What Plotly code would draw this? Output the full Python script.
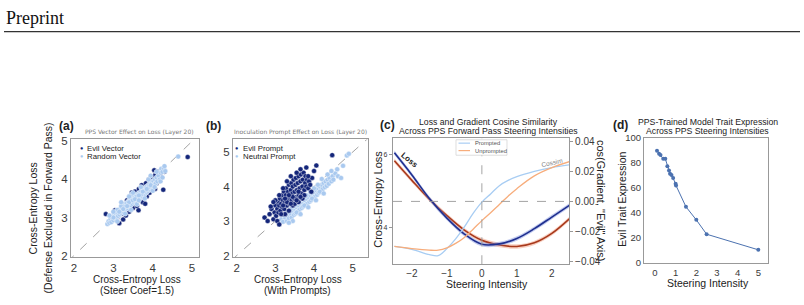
import plotly.graph_objects as go

W, H = 804, 305

# ---------------- data ----------------
# Panel (a): PPS Vector Effect on Loss (Layer 20)
a_evil_pts = [(2.81,3.09),(2.92,2.92),(3.0,2.95),(3.04,3.19),(3.1,3.0),(3.13,3.05),(3.15,2.85),(3.2,3.25),
    (3.22,3.1),(3.25,2.95),(3.28,3.35),(3.3,3.2),(3.32,3.05),(3.35,3.45),(3.38,3.3),(3.4,3.15),(3.42,3.56),
    (3.45,3.4),(3.47,3.66),(3.5,3.25),(3.52,3.5),(3.55,3.68),(3.57,3.35),(3.6,3.3),(3.62,3.6),(3.64,3.19),
    (3.65,3.75),(3.68,3.45),(3.7,3.55),(3.72,3.85),(3.75,3.4),(3.78,3.65),(3.8,3.7),(3.81,3.36),(3.83,3.9),
    (3.85,3.55),(3.88,3.8),(3.9,4.0),(3.92,3.65),(3.95,3.85),(3.98,3.98),(4.0,3.75),(4.02,4.05),(4.06,4.11),
    (4.06,3.75),(4.1,3.9),(4.12,4.2),(4.15,3.95),(4.17,4.08),(4.2,4.1),(4.27,3.73),(4.3,4.2),(4.89,4.59),
    (3.55,3.55),(3.65,3.62),(3.75,3.78),(3.85,3.8),(3.45,3.52),(3.35,3.2),(3.95,4.05),(4.04,4.24)]
a_random_pts = [(2.85,2.83),(2.88,2.9),(2.9,2.86),(2.93,2.95),(2.95,2.88),(2.97,3.0),(3.0,2.93),(3.02,3.05),
    (3.04,2.98),(3.06,3.1),(3.08,3.0),(3.1,3.12),(3.12,3.04),(3.14,3.18),(3.16,3.08),(3.18,3.22),(3.2,3.12),
    (3.22,3.26),(3.24,3.15),(3.26,3.3),(3.28,3.2),(3.3,3.35),(3.32,3.22),(3.34,3.38),(3.36,3.25),(3.38,3.42),
    (3.4,3.3),(3.42,3.45),(3.44,3.32),(3.46,3.48),(3.48,3.36),(3.5,3.52),(3.52,3.4),(3.54,3.55),(3.56,3.42),
    (3.58,3.58),(3.6,3.46),(3.62,3.62),(3.64,3.5),(3.66,3.64),(3.68,3.52),(3.7,3.68),(3.72,3.56),(3.74,3.72),
    (3.76,3.6),(3.78,3.75),(3.8,3.62),(3.82,3.78),(3.84,3.66),(3.86,3.82),(3.88,3.7),(3.9,3.86),(3.92,3.74),
    (3.94,3.9),(3.96,3.78),(3.98,3.92),(4.0,3.82),(4.02,3.96),(4.04,3.86),(4.06,4.0),(4.08,3.9),(4.1,4.05),
    (4.12,3.95),(4.15,4.1),(4.18,4.0),(4.2,4.18),(4.22,4.28),(4.25,4.2),(4.28,4.3),(4.32,4.22),(4.65,4.6),
    (3.1,3.2),(3.2,3.3),(3.3,3.28),(3.4,3.4),(3.5,3.45),(3.6,3.55),(3.7,3.6),(3.8,3.7),(3.9,3.8),(3.45,3.6),
    (3.55,3.48),(3.65,3.58),(3.35,3.3),(3.25,3.22),(3.15,3.15),(3.0,3.0),(3.75,3.68),(3.85,3.75),(3.95,3.85),
    (3.0,3.15),(3.1,2.9),(3.2,3.4),(3.3,3.1),(3.5,3.65),(3.6,3.35),(3.7,3.8),(3.8,3.5),(3.9,4.0),(4.0,3.7),
    (4.1,4.2),(4.2,3.95),(4.3,4.35),(4.25,4.05),(2.9,3.05),(3.4,3.55),(3.45,3.2),(3.65,3.45),(3.95,4.1),(4.05,3.8)]

# Panel (b): Inoculation Prompt Effect on Loss (Layer 20)
b_evil_pts = [(2.72,3.1),(2.85,3.2),(2.9,3.35),(2.95,3.05),(2.98,3.25),(3.0,3.45),(3.02,3.15),(3.05,3.35),
    (3.07,3.55),(3.08,3.25),(3.1,3.45),(3.12,3.65),(3.13,3.3),(3.15,3.5),(3.17,3.75),(3.18,3.4),(3.2,3.6),
    (3.22,3.85),(3.23,3.35),(3.25,3.55),(3.27,3.75),(3.28,3.95),(3.3,3.45),(3.32,3.65),(3.33,3.85),(3.35,4.05),
    (3.36,3.5),(3.38,3.7),(3.4,3.9),(3.41,4.1),(3.42,3.6),(3.44,3.8),(3.45,4.0),(3.47,4.2),(3.48,3.65),
    (3.5,3.85),(3.52,4.05),(3.53,4.25),(3.55,3.7),(3.56,3.9),(3.58,4.1),(3.6,4.3),(3.61,3.75),(3.63,3.95),
    (3.65,4.15),(3.66,4.35),(3.68,3.8),(3.7,4.0),(3.71,4.2),(3.73,4.4),(3.75,3.9),(3.77,4.1),(3.78,4.3),
    (3.8,4.0),(3.82,4.2),(3.85,3.95),(3.87,4.15),(3.9,4.05),(3.93,3.85),(3.95,4.25),(4.06,4.61),(4.0,4.45),
    (4.47,4.91),(3.65,4.5),(3.55,4.4),(3.25,3.2),(3.35,3.3),(3.45,3.45),(3.15,3.2),(3.05,3.0),(2.8,3.0),
    (2.88,3.42),(3.0,3.6),(3.1,3.75),(3.2,3.95),(3.3,4.15),(3.4,4.3),(3.5,3.5),(3.6,3.55),(3.7,3.65),
    (3.3,3.55),(3.4,3.5),(3.5,3.65),(3.2,3.45),(3.6,3.85),(3.75,3.75),(3.45,3.7),(3.55,3.6),(3.35,3.75),
    (3.25,3.65),(3.65,3.7),(3.85,4.3),(3.8,4.55),(3.1,2.9),(2.95,3.55)]
b_neutral_pts = [(3.1,2.95),(3.15,3.05),(3.2,2.98),(3.25,3.1),(3.3,3.0),(3.32,3.15),(3.35,3.08),(3.4,3.2),
    (3.42,3.1),(3.45,3.28),(3.48,3.18),(3.5,3.35),(3.52,3.22),(3.55,3.4),(3.58,3.28),(3.6,3.45),(3.62,3.32),
    (3.65,3.5),(3.68,3.38),(3.7,3.55),(3.72,3.42),(3.75,3.6),(3.78,3.46),(3.8,3.65),(3.82,3.5),(3.85,3.7),
    (3.88,3.56),(3.9,3.75),(3.92,3.6),(3.95,3.8),(3.98,3.66),(4.0,3.85),(4.02,3.7),(4.05,3.9),(4.08,3.76),
    (4.1,3.95),(4.12,3.82),(4.15,4.0),(4.18,3.86),(4.2,4.05),(4.22,3.92),(4.25,4.1),(4.28,3.98),(4.3,4.15),
    (4.33,4.02),(4.35,4.2),(4.38,4.08),(4.4,4.25),(4.45,4.15),(4.48,4.3),(4.5,4.2),(4.55,4.38),(4.6,4.5),
    (4.62,4.3),(4.7,4.25),(4.75,4.6),(4.85,4.9),(4.9,4.95),(3.3,3.25),(3.4,3.35),(3.5,3.45),(3.6,3.55),
    (3.7,3.65),(3.8,3.75),(3.9,3.85),(4.0,3.95),(4.1,4.05),(3.55,3.25),(3.75,3.45),(3.95,3.65),(4.15,3.85),
    (3.45,3.0),(3.65,3.2),(3.85,3.4),(4.05,3.6),(4.25,3.8),(3.2,3.18),(3.35,2.95),(4.35,4.35),(4.45,4.45),(4.2,4.22)]

# Panel (c): loss and gradient cosine similarity vs steering intensity
c_x_loss = [-2.5, -2.0, -1.5, -1.0, -0.5, 0.0, 0.5, 1.0, 1.5, 2.0, 2.5]
c_loss_prompted = [6.06, 5.45, 4.80, 4.26, 3.82, 3.54, 3.55, 3.70, 3.97, 4.29, 4.61]
c_loss_unprompted = [5.84, 5.30, 4.78, 4.33, 3.93, 3.65, 3.52, 3.48, 3.58, 3.84, 4.24]
c_loss_band = 0.06
c_x_cos = [-2.5, -2.0, -1.5, -1.25, -1.0, -0.75, -0.5, -0.25, 0.0, 0.25, 0.5, 0.75, 1.0, 1.5, 2.0, 2.5]
c_cos_prompted = [-0.0300, -0.0320, -0.0355, -0.0362, -0.0315, -0.0250, -0.0170, -0.0080, -0.0005,
                  0.0050, 0.0105, 0.0140, 0.0165, 0.0200, 0.0226, 0.0244]
c_cos_unprompted = [-0.0300, -0.0315, -0.0325, -0.0325, -0.0310, -0.0280, -0.0240, -0.0185, -0.0128,
                    -0.0075, -0.0020, 0.0035, 0.0085, 0.0170, 0.0225, 0.0265]

# Panel (d): trait expression vs steering intensity
d_x = [0.1, 0.2, 0.27, 0.4, 0.5, 0.6, 0.68, 0.73, 0.8, 0.88, 1.0, 1.02, 1.5, 2.0, 2.5, 5.0]
d_y = [89.5, 87, 86, 83, 83, 77, 73.5, 71, 70, 67.5, 63, 61.5, 44.5, 34, 22.5, 10]

# ---------------- styling helpers ----------------
def PX(x): return x / W
def PY(y): return 1 - y / H

NAVY = '#14267a'
LIGHT = '#a9c9ef'
FRAME = '#999999'
TXT = '#222222'
TICK = '#3a3a3a'
SANS = 'Liberation Sans, Arial, sans-serif'

fig = go.Figure()

def scat(pts, color, xa, ya):
    fig.add_trace(go.Scatter(x=[p[0] for p in pts], y=[p[1] for p in pts], mode='markers',
                             xaxis=xa, yaxis=ya, showlegend=False,
                             marker=dict(size=5, color=color, line=dict(color='white', width=0.4))))

def diag(xa, ya):
    fig.add_trace(go.Scatter(x=[1.5, 5.6], y=[1.5, 5.6], mode='lines', xaxis=xa, yaxis=ya,
                             showlegend=False, line=dict(color='#8a8a8a', width=0.8, dash='dash')))

diag('x', 'y')
scat(a_evil_pts, NAVY, 'x', 'y')
scat(a_random_pts, LIGHT, 'x', 'y')
diag('x2', 'y2')
scat(b_neutral_pts, LIGHT, 'x2', 'y2')
scat(b_evil_pts, NAVY, 'x2', 'y2')

# panel c: cosine curves (right axis)
fig.add_trace(go.Scatter(x=c_x_cos, y=c_cos_prompted, mode='lines', line=dict(color='#a8cdf3', width=1.3, shape='spline'),
                         xaxis='x3', yaxis='y4', showlegend=False))
fig.add_trace(go.Scatter(x=c_x_cos, y=c_cos_unprompted, mode='lines', line=dict(color='#f7ad7c', width=1.3, shape='spline'),
                         xaxis='x3', yaxis='y4', showlegend=False))

def band(x, y, line_color, fill_color):
    fig.add_trace(go.Scatter(x=x, y=[v + c_loss_band for v in y], mode='lines', line=dict(width=0, shape='spline'),
                             xaxis='x3', yaxis='y3', showlegend=False, hoverinfo='skip'))
    fig.add_trace(go.Scatter(x=x, y=[v - c_loss_band for v in y], mode='lines', line=dict(width=0, shape='spline'),
                             fill='tonexty', fillcolor=fill_color,
                             xaxis='x3', yaxis='y3', showlegend=False, hoverinfo='skip'))
    fig.add_trace(go.Scatter(x=x, y=y, mode='lines', line=dict(color=line_color, width=1.6, shape='spline'),
                             xaxis='x3', yaxis='y3', showlegend=False))

band(c_x_loss, c_loss_unprompted, '#a8391c', 'rgba(240,150,120,0.45)')
band(c_x_loss, c_loss_prompted, '#1f2f8f', 'rgba(120,140,220,0.45)')

# panel d
fig.add_trace(go.Scatter(x=d_x, y=d_y, mode='lines+markers', xaxis='x4', yaxis='y5', showlegend=False,
                         line=dict(color='#4c72b0', width=1), marker=dict(size=4, color='#4c72b0')))

def axstyle(**kw):
    d = dict(showline=True, mirror=True, linecolor=FRAME, linewidth=1.2, showgrid=False, zeroline=False,
             ticks='', tickfont=dict(family=SANS, size=11.5, color=TICK))
    d.update(kw)
    return d

fig.update_layout(
    width=W, height=H, margin=dict(l=0, r=0, t=0, b=0),
    paper_bgcolor='white', plot_bgcolor='white',
    font=dict(family=SANS, color=TXT),
    xaxis=axstyle(domain=[PX(71), PX(199)], range=[1.924, 5.178], tickvals=[2, 3, 4, 5], anchor='y'),
    yaxis=axstyle(domain=[PY(260), PY(137)], range=[1.949, 5.076], tickvals=[2, 3, 4, 5], anchor='x'),
    xaxis2=axstyle(domain=[PX(233), PX(368)], range=[1.904, 5.396], tickvals=[2, 3, 4, 5], anchor='y2'),
    yaxis2=axstyle(domain=[PY(260), PY(138)], range=[1.944, 5.364], tickvals=[2, 3, 4, 5], anchor='x2'),
    xaxis3=axstyle(domain=[PX(393), PX(569)], range=[-2.54, 2.49], tickvals=[-2, -1, 0, 1, 2],
                   tickfont=dict(family=SANS, size=10, color=TICK), anchor='y3'),
    yaxis3=axstyle(domain=[PY(267), PY(136)], range=[2.99, 6.48], tickvals=[4, 6], mirror=False,
                   ticks='outside', ticklen=3, tickcolor=FRAME, tickfont=dict(family=SANS, size=7, color=TICK),
                   anchor='x3'),
    yaxis4=axstyle(domain=[PY(267), PY(136)], range=[-0.0419, 0.0426], tickvals=[-0.04, -0.02, 0, 0.02, 0.04],
                   tickformat='.2f', side='right', overlaying='y3', mirror=False,
                   ticks='outside', ticklen=3, tickcolor=FRAME,
                   tickfont=dict(family=SANS, size=10, color=TICK), anchor='x3'),
    xaxis4=axstyle(domain=[PX(644), PX(768)], range=[-0.53, 5.47], tickvals=[0, 1, 2, 3, 4, 5],
                   tickfont=dict(family=SANS, size=9.5, color=TICK), anchor='y5'),
    yaxis5=axstyle(domain=[PY(266), PY(136)], range=[-0.8, 100], tickvals=[0, 20, 40, 60, 80, 100],
                   tickfont=dict(family=SANS, size=9.5, color=TICK), anchor='x4'),
)

# reference dashed lines in panel c
fig.add_shape(type='line', xref='x3', yref='y3 domain', x0=0, x1=0, y0=0, y1=1,
              line=dict(color='#9a9a9a', width=0.9, dash='dash'))
fig.add_shape(type='line', xref='x3 domain', yref='y4', x0=0, x1=1, y0=0, y1=0,
              line=dict(color='#9a9a9a', width=0.9, dash='dash'))

ann = []
def A(text, x, y, size, color=TXT, angle=0, family=SANS, xanchor='center', bold=False):
    t = f'<b>{text}</b>' if bold else text
    ann.append(dict(text=t, x=PX(x), y=PY(y), xref='paper', yref='paper', showarrow=False,
                    xanchor=xanchor, yanchor='middle', textangle=angle,
                    font=dict(family=family, size=size, color=color)))

# header
A('Preprint', 4, 12, 18, color='#111111', family='Liberation Serif, Times New Roman, serif', xanchor='left')
fig.add_shape(type='line', xref='paper', yref='paper', x0=PX(4), x1=PX(800), y0=PY(26.5), y1=PY(26.5),
              line=dict(color='#333333', width=1.3))

# panel labels
A('(a)', 66, 124, 12, bold=True)
A('(b)', 213, 124, 12, bold=True)
A('(c)', 387, 123, 12, bold=True)
A('(d)', 620.5, 123, 12, bold=True)

# subtitles a, b
A('PPS Vector Effect on Loss (Layer 20)', 139, 130.5, 6, color='#777777', family='DejaVu Sans, sans-serif')
A('Inoculation Prompt Effect on Loss (Layer 20)', 300.5, 130.5, 6, color='#777777', family='DejaVu Sans, sans-serif')

# titles c, d
A('Loss and Gradient Cosine Similarity', 488.5, 120, 8.7)
A('Across PPS Forward Pass Steering Intensities', 488, 129.3, 8.7)
A('PPS-Trained Model Trait Expression', 708, 120, 8.7)
A('Across PPS Steering Intensities', 707.5, 129.3, 8.7)

# axis titles
A('Cross-Entropy Loss', 136.7, 282.3, 10)
A('(Steer Coef=1.5)', 136.5, 294.5, 10)
A('Cross-Entropy Loss', 33.3, 209, 10.5, angle=-90)
A('(Defense Excluded in Forward Pass)', 48.3, 209, 10.5, angle=-90)
A('Cross-Entropy Loss', 297.8, 282.3, 10)
A('(With Prompts)', 297.8, 294.5, 10)
A('Steering Intensity', 486.7, 287.5, 10.5)
A('Cross-Entropy Loss', 378.3, 200, 11, angle=-90)
A('cos(Gradient, "Evil" Axis)', 600.5, 201, 11, angle=90)
A('Steering Intensity', 707.8, 286.5, 10.5)
A('Evil Trait Expression', 621.7, 199.5, 10.5, angle=-90)

# in-plot labels c
A('Loss', 410, 159.5, 8, bold=True, angle=40)
A('Cossim', 551.5, 161.5, 6.5, color='#888888', angle=-13)

# legends a, b (marker glyph + label)
for (lx, ly, col, lab) in [(81, 147, NAVY, 'Evil Vector'), (81, 155.3, LIGHT, 'Random Vector'),
                           (236.7, 147.3, NAVY, 'Evil Prompt'), (236.7, 155.3, LIGHT, 'Neutral Prompt')]:
    A('●', lx, ly, 5.5, color=col)
    A(lab, lx + 4.3, ly, 7.8, xanchor='left')

# legend c
fig.add_shape(type='rect', xref='paper', yref='paper', x0=PX(456), x1=PX(507), y0=PY(154.3), y1=PY(138.3),
              line=dict(color='#d0d0d0', width=0.7), fillcolor='white')
fig.add_shape(type='line', xref='paper', yref='paper', x0=PX(458.5), x1=PX(470), y0=PY(141.8), y1=PY(141.8),
              line=dict(color='#a8cdf3', width=1.2))
fig.add_shape(type='line', xref='paper', yref='paper', x0=PX(458.5), x1=PX(470), y0=PY(149.5), y1=PY(149.5),
              line=dict(color='#f7ad7c', width=1.2))
A('Prompted', 472.5, 141.8, 5.8, color='#555555', xanchor='left')
A('Unprompted', 472.5, 149.5, 5.8, color='#555555', xanchor='left')

fig.update_layout(annotations=ann)
fig.write_html('out.html')
